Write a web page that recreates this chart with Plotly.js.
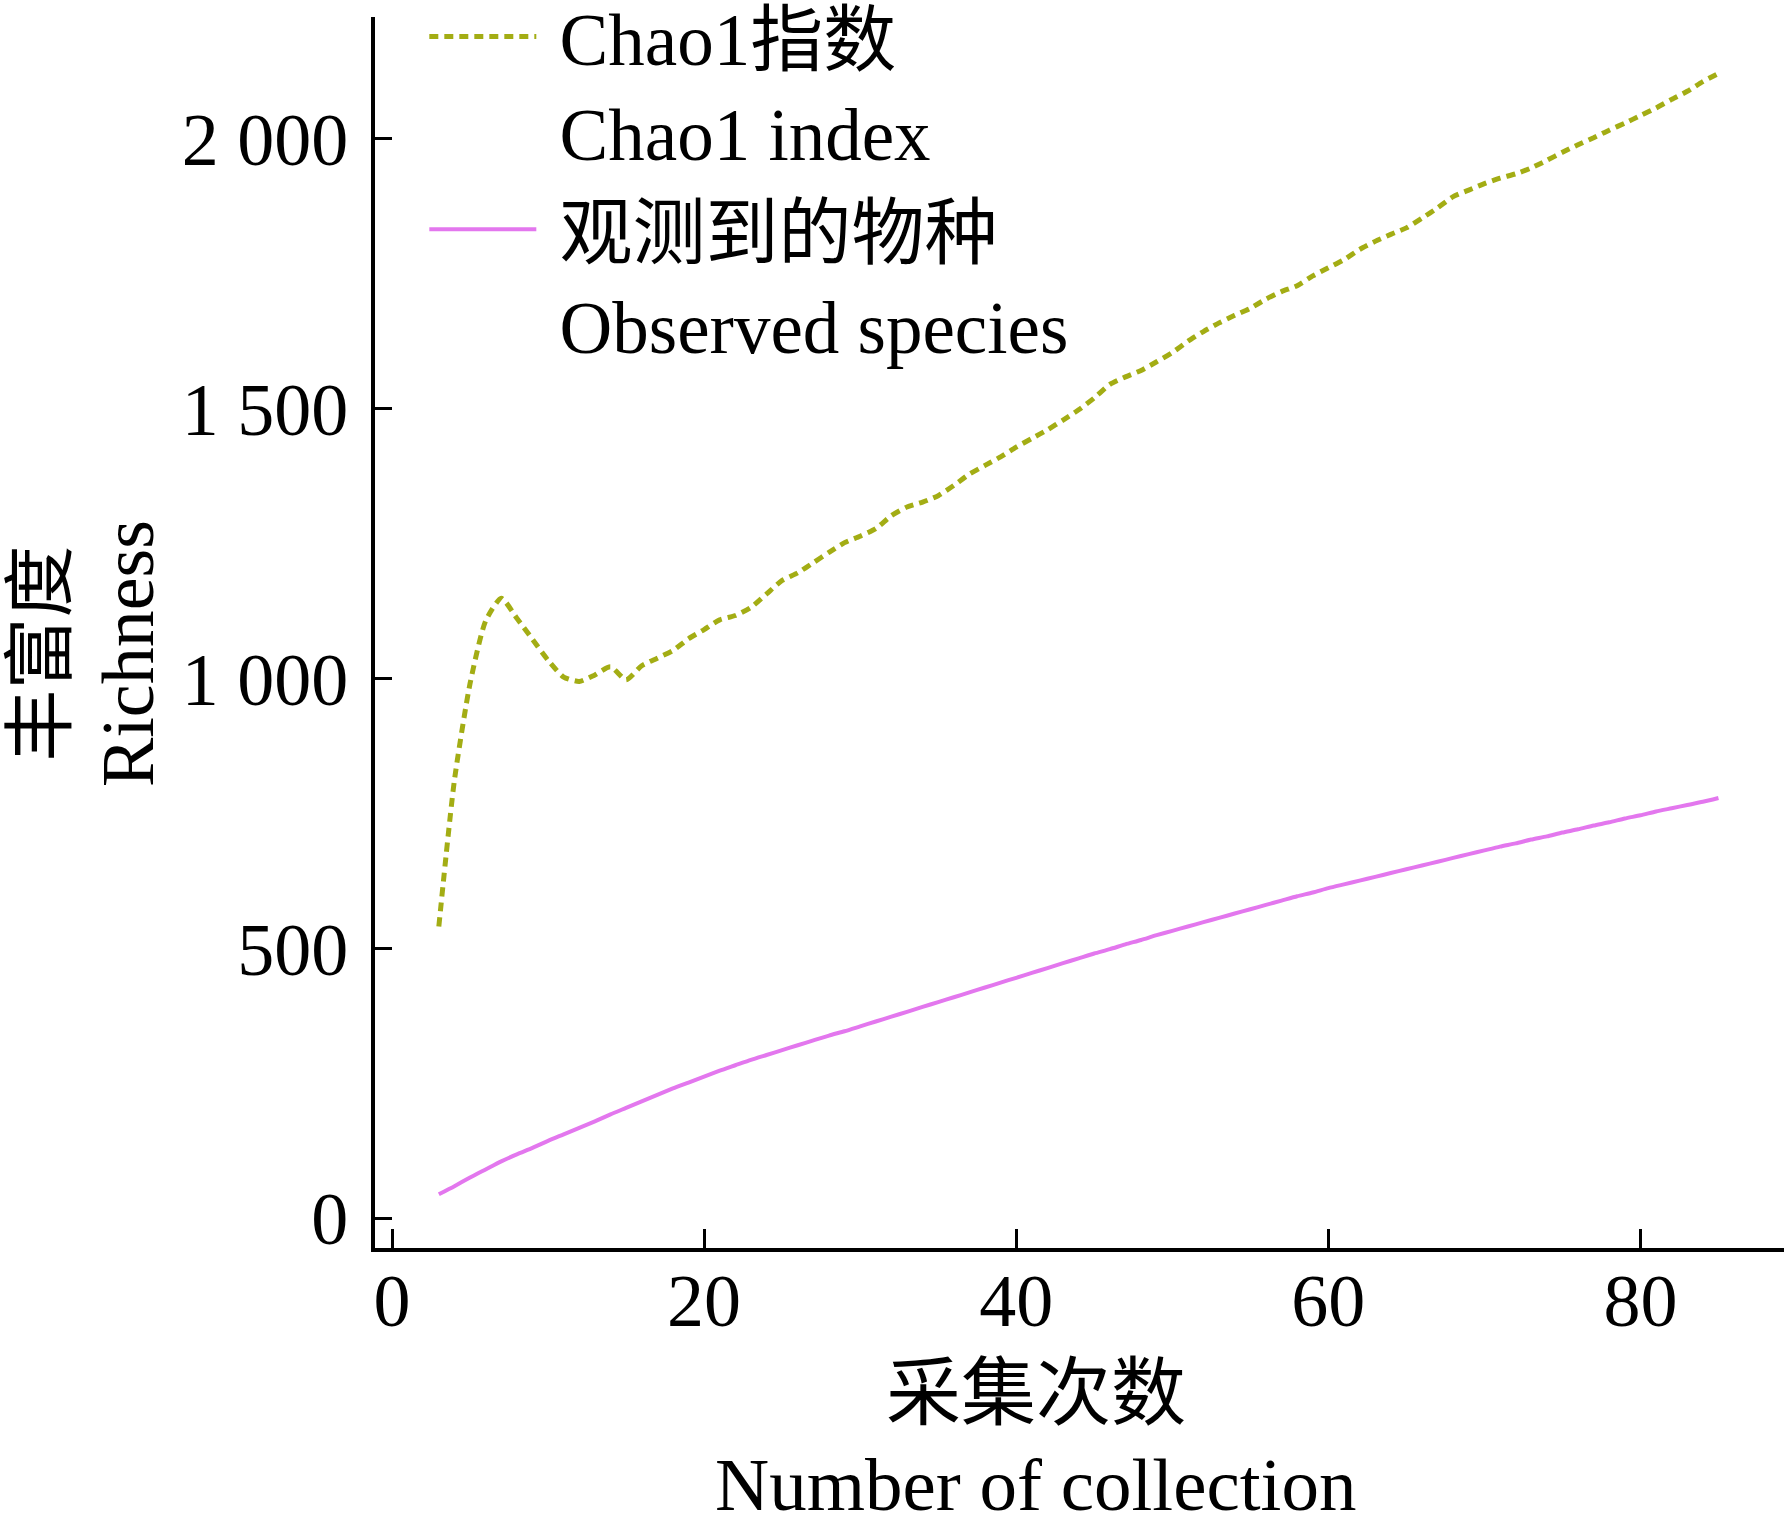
<!DOCTYPE html>
<html>
<head>
<meta charset="utf-8">
<script src="https://cdn.plot.ly/plotly-3.0.1.min.js"></script>
<style>
  html, body { margin: 0; padding: 0; background: #ffffff; }
  #chart { width: 1784px; height: 1532px; }
</style>
</head>
<body>
<div id="chart"></div>
<script>
// Number of collections (x)
const collections = [3,4,5,6,7,8,9,10,11,12,13,14,15,16,17,18,19,20,21,22,23,24,25,26,27,28,29,30,
  31,32,33,34,35,36,37,38,39,40,41,42,43,44,45,46,47,48,49,50,51,52,53,54,55,56,57,58,59,60,
  61,62,63,64,65,66,67,68,69,70,71,72,73,74,75,76,77,78,79,80,81,82,83,84,85];

// Chao1 index
const chao1 = [541,812,991,1107,1149,1112,1073,1034,1003,995,1007,1022,998,1024,1038,1052,1074,1091,1109,1117,
  1132,1157,1182,1196,1215,1234,1252,1264,1278,1302,1318,1327,1339,1358,1379,1395,1411,1429,1445,1461,
  1479,1498,1520,1545,1559,1571,1587,1604,1625,1643,1659,1673,1686,1703,1717,1728,1746,1761,1776,1795,
  1810,1823,1835,1853,1872,1893,1905,1917,1927,1935,1946,1960,1975,1989,2002,2016,2029,2043,2057,2073,
  2088,2106,2121];

// Observed species
const observed = [45,60,76,91,106,119,131,144,156,168,180,193,205,217,229,241,252,263,274,284,
  294,303,312,321,330,339,347,356,365,374,383,392,401,410,419,428,437,446,455,464,
  473,482,491,499,508,516,525,533,541,549,557,565,573,581,589,597,604,612,619,626,
  633,640,647,654,661,668,675,682,689,695,702,708,715,721,728,734,741,747,754,760,
  766,772,779];

// Axis ticks
const xTickVals = [0,20,40,60,80];
const xTickText = ["0","20","40","60","80"];
const yTickVals = [0,500,1000,1500,2000];
const yTickText = ["0","500","1 000","1 500","2 000"];

// Labels
const seriesNames = ["\u00A0Chao1指数<br>\u00A0Chao1 index", "\u00A0观测到的物种<br>\u00A0Observed species"];
const xTitleCN = "采集次数";
const xTitleEN = "Number of collection";
const yTitleCN = "丰富度";
const yTitleEN = "Richness";

const FONT = "'Liberation Serif', 'Times New Roman', 'Noto Sans CJK SC', serif";

const traces = [
  {
    x: collections, y: chao1, name: seriesNames[0], type: 'scatter', mode: 'lines',
    line: { color: '#a3ad14', width: 5, dash: '9px,6px', shape: 'spline', smoothing: 0.6 }
  },
  {
    x: collections, y: observed, name: seriesNames[1], type: 'scatter', mode: 'lines',
    line: { color: '#e377ee', width: 4, shape: 'spline', smoothing: 0.6 }
  }
];

const layout = {
  width: 1784, height: 1532,
  margin: { l: 375, r: 0, t: 17, b: 284, pad: 0, autoexpand: false },
  paper_bgcolor: '#ffffff', plot_bgcolor: '#ffffff',
  font: { family: FONT, size: 74, color: '#000000' },
  showlegend: true,
  legend: {
    x: 0.035, y: 1.028, xanchor: 'left', yanchor: 'top',
    bgcolor: 'rgba(0,0,0,0)', borderwidth: 0,
    font: { family: FONT, size: 73, color: '#000000' },
    itemwidth: 107, valign: 'top', traceorder: 'normal'
  },
  xaxis: {
    range: [-1.09, 89.2], showgrid: false, zeroline: false,
    showline: true, linecolor: '#000000', linewidth: 4,
    ticks: 'inside', ticklen: 19, tickwidth: 3, tickcolor: '#000000',
    tickvals: xTickVals, ticktext: xTickText,
    tickfont: { family: FONT, size: 74, color: '#000000' },
    ticklabelstandoff: -15
  },
  yaxis: {
    range: [-54.5, 2225.6], showgrid: false, zeroline: false,
    showline: true, linecolor: '#000000', linewidth: 4,
    ticks: 'inside', ticklen: 17, tickwidth: 3, tickcolor: '#000000',
    tickvals: yTickVals, ticktext: yTickText,
    tickfont: { family: FONT, size: 74, color: '#000000' },
    ticklabelstandoff: 8
  },
  annotations: [
    {
      text: xTitleCN, xref: 'paper', yref: 'paper', x: 0.469, y: -0.1186,
      xanchor: 'center', yanchor: 'middle', showarrow: false,
      font: { family: FONT, size: 75, color: '#000000' }
    },
    {
      text: xTitleEN, xref: 'paper', yref: 'paper', x: 0.469, y: -0.1925,
      xanchor: 'center', yanchor: 'middle', showarrow: false,
      font: { family: FONT, size: 75, color: '#000000' }
    },
    {
      text: yTitleCN, xref: 'paper', yref: 'paper', x: -0.2368, y: 0.4833,
      xanchor: 'center', yanchor: 'middle', showarrow: false, textangle: -90,
      font: { family: FONT, size: 72, color: '#000000' }
    },
    {
      text: yTitleEN, xref: 'paper', yref: 'paper', x: -0.1753, y: 0.4825,
      xanchor: 'center', yanchor: 'middle', showarrow: false, textangle: -90,
      font: { family: FONT, size: 74, color: '#000000' }
    }
  ]
};

Plotly.newPlot('chart', traces, layout, { staticPlot: true, displayModeBar: false });
</script>
</body>
</html>
